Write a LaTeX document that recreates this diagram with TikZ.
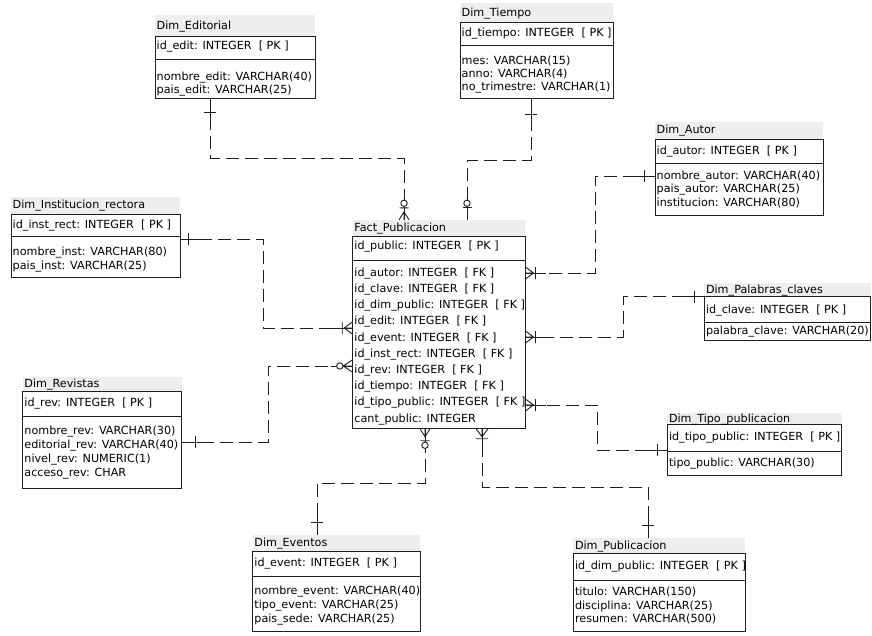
\documentclass[tikz,border=0pt]{standalone}
\usepackage{fontspec}
\setmainfont{DejaVu Sans}
\usetikzlibrary{fit,calc}

\definecolor{bandgray}{HTML}{EEEEEE}
\definecolor{edgegray}{HTML}{1E1E1E}

\tikzset{
  band/.style={fill=bandgray, draw=none, inner sep=0pt},
  ebox/.style={draw=edgegray, line width=0.9pt, inner sep=0pt, fill=white},
  txt/.style={anchor=west, inner sep=0pt, text height=8.5pt, text depth=1.5pt,
              font=\fontsize{11.2}{13}\selectfont},
  relline/.style={draw=edgegray, line width=0.9pt, dash pattern=on 13pt off 6pt},
  relsolid/.style={draw=edgegray, line width=0.9pt},
  sym/.style={draw=edgegray, line width=0.9pt},
  % cardinality marks, local +x points away from the entity edge
  pics/onetick/.style={code={\draw[sym] (0,-6)--(0,6);}},
  pics/cfbar/.style={code={\draw[sym] (0,-6)--(8,0)--(0,6) (0,0)--(8,0) (10,-6)--(10,6);}},
  pics/cfcirc/.style={code={\draw[sym] (0,-6)--(9,0)--(0,6) (0,0)--(9,0);
                            \draw[sym,fill=white] (12.5,0) circle[radius=3.2pt];}},
  pics/cfbarcirc/.style={code={\draw[sym] (0,-5)--(8,0)--(0,5) (0,0)--(8,0) (12,-4.5)--(12,4.5);
                               \draw[sym,fill=white] (16.5,0) circle[radius=3.2pt];}},
  pics/barcirc/.style={code={\draw[sym] (12,-4.5)--(12,4.5);
                             \draw[sym,fill=white] (16.5,0) circle[radius=3.2pt];}},
}

% #1 name, #2 left, #3 right, #4 title top, #5 box top, #6 separator, #7 bottom, #8 title
\newcommand\erentity[8]{%
  \node[band, fit={(#2,#4) (#3,#5)}] (#1T) {};
  \node[ebox, fit={(#2,#5) (#3,#7)}] (#1) {};
  \draw[edgegray, line width=0.9pt] (#2,#6) -- (#3,#6);
  \node[txt] (#1N) at ({#2+1.5},{(#4+#5)/2}) {#8};
}
% #1 name, #2 left, #3 list of y/text
\newcommand\errows[3]{%
  \foreach[count=\i] \ry/\rt in {#3} {\node[txt] (#1-\i) at ({#2+1.5},\ry) {\rt};}
}
% #1 start, #2 bend, #3 bend, #4 end
\newcommand\erlink[4]{%
  \draw[relline] (#1) -- (#2) -- (#3) -- (#4);
  \draw[relsolid] (#1) -- ($(#1)!20pt!(#2)$);
  \draw[relsolid] (#4) -- ($(#4)!21pt!(#3)$);
}

\begin{document}
\begin{tikzpicture}[x=1pt, y=-1pt]
\useasboundingbox (0,0) rectangle (872,635);
\fill[white] (0,0) rectangle (872,635);

% ---------- entities ----------
\erentity{edit}{155}{315}{15}{36}{59}{98}{Dim\_Editorial}
\errows{edit}{155}{45.5/{id\_edit: INTEGER~~[ PK ]}, 76.7/{nombre\_edit: VARCHAR(40)}, 90/{pais\_edit: VARCHAR(25)}}

\erentity{tiempo}{460}{613}{3}{22.7}{45}{98.3}{Dim\_Tiempo}
\errows{tiempo}{460}{33/{id\_tiempo: INTEGER~~[ PK ]}, 60.7/{mes: VARCHAR(15)}, 74/{anno: VARCHAR(4)}, 87.3/{no\_trimestre: VARCHAR(1)}}

\erentity{autor}{655}{823}{121.7}{139}{163.3}{215}{Dim\_Autor}
\errows{autor}{655}{150.5/{id\_autor: INTEGER~~[ PK ]}, 176/{nombre\_autor: VARCHAR(40)}, 189.3/{pais\_autor: VARCHAR(25)}, 202.6/{institucion: VARCHAR(80)}}

\erentity{inst}{11}{180}{196.7}{214}{236.7}{277}{Dim\_Institucion\_rectora}
\errows{inst}{11}{225/{id\_inst\_rect: INTEGER~~[ PK ]}, 251.7/{nombre\_inst: VARCHAR(80)}, 266/{pais\_inst: VARCHAR(25)}}

\erentity{palabras}{704.3}{870.5}{283}{296.7}{322.7}{340}{Dim\_Palabras\_claves}
\errows{palabras}{704.3}{309.5/{id\_clave: INTEGER~~[ PK ]}, 331.3/{palabra\_clave: VARCHAR(20)}}

\erentity{revistas}{22.7}{181.7}{376.7}{391.7}{416.7}{488.3}{Dim\_Revistas}
\errows{revistas}{22.7}{403/{id\_rev: INTEGER~~[ PK ]}, 430.7/{nombre\_rev: VARCHAR(30)}, 444.9/{editorial\_rev: VARCHAR(40)}, 459.1/{nivel\_rev: NUMERIC(1)}, 473.3/{acceso\_rev: CHAR}}

\erentity{tipo}{667.3}{841.7}{413.3}{424}{451.7}{475}{Dim\_Tipo\_publicacion}
\errows{tipo}{667.3}{437/{id\_tipo\_public: INTEGER~~[ PK ]}, 463.3/{tipo\_public: VARCHAR(30)}}

\erentity{eventos}{252.7}{420}{535}{551.7}{576.7}{631.5}{Dim\_Eventos}
\errows{eventos}{252.7}{563/{id\_event: INTEGER~~[ PK ]}, 590.7/{nombre\_event: VARCHAR(40)}, 605/{tipo\_event: VARCHAR(25)}, 619.3/{pais\_sede: VARCHAR(25)}}

\erentity{publicacion}{573.3}{745}{538.3}{553.3}{580}{631.5}{Dim\_Publicacion}
\errows{publicacion}{573.3}{565.5/{id\_dim\_public: INTEGER~~[ PK ]}, 591.7/{titulo: VARCHAR(150)}, 606/{disciplina: VARCHAR(25)}, 619.3/{resumen: VARCHAR(500)}}

\erentity{fact}{352.7}{525}{220}{236.7}{260}{428.3}{Fact\_Publicacion}
\errows{fact}{352.7}{246/{id\_public: INTEGER~~[ PK ]},
  272.7/{id\_autor: INTEGER~~[ FK ]}, 288.9/{id\_clave: INTEGER~~[ FK ]},
  305.1/{id\_dim\_public: INTEGER~~[ FK ]}, 321.3/{id\_edit: INTEGER~~[ FK ]},
  337.5/{id\_event: INTEGER~~[ FK ]}, 353.7/{id\_inst\_rect: INTEGER~~[ FK ]},
  369.9/{id\_rev: INTEGER~~[ FK ]}, 386.1/{id\_tiempo: INTEGER~~[ FK ]},
  402.3/{id\_tipo\_public: INTEGER~~[ FK ]}, 418.5/{cant\_public: INTEGER}}

% ---------- relationships ----------
% Dim_Editorial
\coordinate (c1a) at (210,158); \coordinate (c1b) at (404,158);
\coordinate (s1) at (edit.south -| c1a); \coordinate (e1) at (factT.north -| c1b);
\erlink{s1}{c1a}{c1b}{e1}
\pic[rotate=90] at ($(s1)!13.7pt!(c1a)$) {onetick};
\pic[rotate=90] at (e1) {cfbarcirc};

% Dim_Tiempo
\coordinate (c2a) at (531,160); \coordinate (c2b) at (467,160);
\coordinate (s2) at (tiempo.south -| c2a); \coordinate (e2) at (factT.north -| c2b);
\erlink{s2}{c2a}{c2b}{e2}
\pic[rotate=90] at ($(s2)!16pt!(c2a)$) {onetick};
\pic[rotate=90] at (e2) {barcirc};

% Dim_Autor
\coordinate (c3a) at (595,176); \coordinate (c3b) at (595,273);
\coordinate (s3) at (autor.west |- c3a); \coordinate (e3) at (fact.east |- c3b);
\erlink{s3}{c3a}{c3b}{e3}
\pic at ($(s3)!10pt!(c3a)$) {onetick};
\pic at (e3) {cfbar};

% Dim_Palabras_claves
\coordinate (c4a) at (623,296.7); \coordinate (c4b) at (623,337);
\coordinate (s4) at (palabras.west |- c4a); \coordinate (e4) at (fact.east |- c4b);
\erlink{s4}{c4a}{c4b}{e4}
\pic at ($(s4)!9pt!(c4a)$) {onetick};
\pic at (e4) {cfbar};

% Dim_Tipo_publicacion
\coordinate (c5a) at (597,450); \coordinate (c5b) at (597,405);
\coordinate (s5) at (tipo.west |- c5a); \coordinate (e5) at (fact.east |- c5b);
\erlink{s5}{c5a}{c5b}{e5}
\pic at ($(s5)!9pt!(c5a)$) {onetick};
\pic at (e5) {cfbar};

% Dim_Institucion_rectora
\coordinate (c6a) at (263,239); \coordinate (c6b) at (263,328);
\coordinate (s6) at (inst.east |- c6a); \coordinate (e6) at (fact.west |- c6b);
\erlink{s6}{c6a}{c6b}{e6}
\pic at ($(s6)!8pt!(c6a)$) {onetick};
\pic[rotate=180] at (e6) {cfbar};

% Dim_Revistas
\coordinate (c7a) at (268,442); \coordinate (c7b) at (268,366);
\coordinate (s7) at (revistas.east |- c7a); \coordinate (e7) at (fact.west |- c7b);
\erlink{s7}{c7a}{c7b}{e7}
\pic at ($(s7)!13pt!(c7a)$) {onetick};
\pic[rotate=180] at (e7) {cfcirc};

% Dim_Eventos
\coordinate (c8a) at (317,483); \coordinate (c8b) at (425,483);
\coordinate (s8) at (eventosT.north -| c8a); \coordinate (e8) at (fact.south -| c8b);
\erlink{s8}{c8a}{c8b}{e8}
\pic[rotate=90] at ($(s8)!12pt!(c8a)$) {onetick};
\pic[rotate=-90] at (e8) {cfbarcirc};

% Dim_Publicacion
\coordinate (c9a) at (648,487); \coordinate (c9b) at (482,487);
\coordinate (s9) at (publicacionT.north -| c9a); \coordinate (e9) at (fact.south -| c9b);
\erlink{s9}{c9a}{c9b}{e9}
\pic[rotate=90] at ($(s9)!13pt!(c9a)$) {onetick};
\pic[rotate=-90] at (e9) {cfbar};

\end{tikzpicture}
\end{document}
